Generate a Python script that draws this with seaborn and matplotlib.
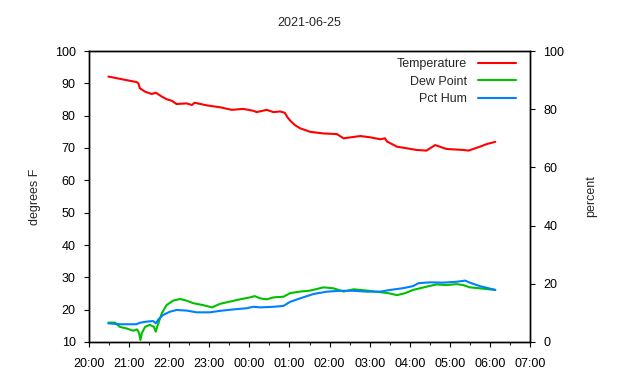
import pandas as pd
import seaborn as sns
import matplotlib
matplotlib.use("Agg")
import matplotlib.pyplot as plt
import matplotlib.dates as mdates
from matplotlib.lines import Line2D


temp_times = ["20:29", "20:51", "21:11", "21:14", "21:16", "21:24", "21:34", "21:40",
              "21:49", "21:56", "22:04", "22:11", "22:26", "22:34", "22:38", "22:56",
              "23:16", "23:34", "23:51", "00:06", "00:11", "00:26", "00:36", "00:46",
              "00:53", "00:57", "01:01", "01:08", "01:16", "01:31", "01:51", "02:11",
              "02:21", "02:46", "03:01", "03:16", "03:23", "03:26", "03:41", "03:56",
              "04:10", "04:25", "04:38", "04:55", "05:20", "05:28", "05:45", "05:55",
              "06:08"]
temp_vals = [92.1, 91.2, 90.4, 90.0, 88.5, 87.4, 86.7, 87.1,
             85.9, 85.1, 84.6, 83.6, 83.8, 83.3, 84.0, 83.2,
             82.6, 81.8, 82.1, 81.5, 81.1, 81.8, 81.1, 81.3,
             80.9, 79.5, 78.5, 77.1, 76.1, 75.0, 74.5, 74.3,
             73.0, 73.7, 73.3, 72.7, 73.0, 72.0, 70.4, 69.9,
             69.4, 69.2, 70.9, 69.7, 69.4, 69.2, 70.4, 71.2,
             71.9]

dew_times = ["20:29", "20:39", "20:46", "20:56", "21:06", "21:12", "21:15", "21:17",
             "21:19", "21:24", "21:31", "21:37", "21:40", "21:42", "21:49", "21:56",
             "22:06", "22:16", "22:26", "22:36", "22:51", "23:04", "23:16", "23:31",
             "23:46", "00:01", "00:08", "00:16", "00:26", "00:36", "00:51", "01:01",
             "01:16", "01:31", "01:51", "02:06", "02:21", "02:36", "02:56", "03:16",
             "03:28", "03:41", "03:53", "04:05", "04:15", "04:25", "04:40", "04:55",
             "05:10", "05:20", "05:30", "05:45", "06:08"]
dew_vals = [16.0, 16.0, 14.7, 14.2, 13.5, 13.9, 12.7, 10.6,
            12.7, 14.7, 15.3, 14.7, 13.2, 14.7, 18.9, 21.4,
            22.8, 23.3, 22.8, 22.0, 21.4, 20.7, 21.8, 22.5,
            23.2, 23.8, 24.2, 23.5, 23.2, 23.8, 24.0, 25.1,
            25.6, 25.9, 26.9, 26.6, 25.6, 26.3, 25.9, 25.4,
            25.1, 24.5, 25.1, 26.1, 26.6, 27.1, 27.8, 27.6,
            27.9, 27.6, 26.9, 26.6, 26.1]

hum_times = ["20:29", "20:46", "21:11", "21:16", "21:26", "21:36", "21:40", "21:44",
             "21:51", "22:01", "22:11", "22:26", "22:41", "23:01", "23:16", "23:36",
             "23:56", "00:06", "00:16", "00:36", "00:51", "01:01", "01:16", "01:36",
             "01:56", "02:16", "02:36", "02:56", "03:16", "03:31", "03:50", "04:05",
             "04:13", "04:30", "04:50", "05:10", "05:23", "05:30", "05:45", "06:08"]
hum_vals = [6.4, 6.1, 6.1, 6.6, 7.0, 7.2, 6.4, 7.8,
            9.3, 10.4, 11.0, 10.8, 10.2, 10.2, 10.7, 11.2,
            11.6, 12.1, 11.9, 12.1, 12.4, 13.8, 15.0, 16.5,
            17.3, 17.6, 17.6, 17.3, 17.3, 17.9, 18.5, 19.2,
            20.2, 20.5, 20.4, 20.7, 21.1, 20.4, 19.2, 17.9]


def to_dt(times):
    out = []
    for t in times:
        day = "2021-06-25" if int(t[:2]) >= 12 else "2021-06-26"
        out.append(pd.Timestamp(day + " " + t))
    return out


temp_df = pd.DataFrame({"time": to_dt(temp_times), "value": temp_vals})
dew_df = pd.DataFrame({"time": to_dt(dew_times), "value": dew_vals})
hum_df = pd.DataFrame({"time": to_dt(hum_times), "value": hum_vals})

sns.set_style("ticks")
plt.rcParams["font.family"] = ["Liberation Sans", "DejaVu Sans"]
plt.rcParams["font.size"] = 9

red, green, blue = "#ff0000", "#00c000", "#0080ff"

fig = plt.figure(figsize=(6.4, 3.8), dpi=100)
ax = fig.add_axes([89 / 640, 1 - 342 / 380, 441 / 640, 291 / 380])
ax2 = ax.twinx()

sns.lineplot(x="time", y="value", data=temp_df, ax=ax, color=red, lw=1.5)
sns.lineplot(x="time", y="value", data=dew_df, ax=ax, color=green, lw=1.5)
sns.lineplot(x="time", y="value", data=hum_df, ax=ax2, color=blue, lw=1.5)

ax.set_xlim(pd.Timestamp("2021-06-25 20:00"), pd.Timestamp("2021-06-26 07:00"))
ax.set_ylim(10, 100)
ax.set_yticks(range(10, 101, 10))
ax2.set_ylim(0, 100)
ax2.set_yticks(range(0, 101, 20))

ax.xaxis.set_major_locator(mdates.HourLocator())
ax.xaxis.set_minor_locator(mdates.MinuteLocator(byminute=[30]))
ax.xaxis.set_major_formatter(mdates.DateFormatter("%H:%M"))

ax.set_xlabel("")
ax.set_ylabel("degrees F", fontsize=9, labelpad=10)
ax2.set_ylabel("percent", fontsize=9, labelpad=15)
ax.set_title("2021-06-25", fontsize=9, pad=18)

for a in (ax, ax2):
    for s in a.spines.values():
        s.set_visible(True)
        s.set_linewidth(1.0)
        s.set_color("black")
ax.tick_params(axis="both", which="major", direction="out", length=3.5, width=0.8,
               pad=6, labelsize=9, colors="black", top=False, right=False)
ax.tick_params(axis="x", which="major", pad=8)
ax.tick_params(axis="x", which="minor", direction="out", length=2, width=0.8, top=False)
ax2.tick_params(axis="y", which="major", direction="out", length=3.5, width=0.8,
                pad=6, labelsize=9, colors="black")

handles = [Line2D([], [], color=red, lw=1.5),
           Line2D([], [], color=green, lw=1.5),
           Line2D([], [], color=blue, lw=1.5)]
ax2.legend(handles, ["Temperature", "Dew Point", "Pct Hum"], loc="upper right",
           frameon=False, markerfirst=False, fontsize=9, handlelength=3.0,
           handletextpad=0.9, labelspacing=0.45, borderaxespad=0.4,
           bbox_to_anchor=(0.99, 1.01))

fig.savefig("out.png", dpi=100)
